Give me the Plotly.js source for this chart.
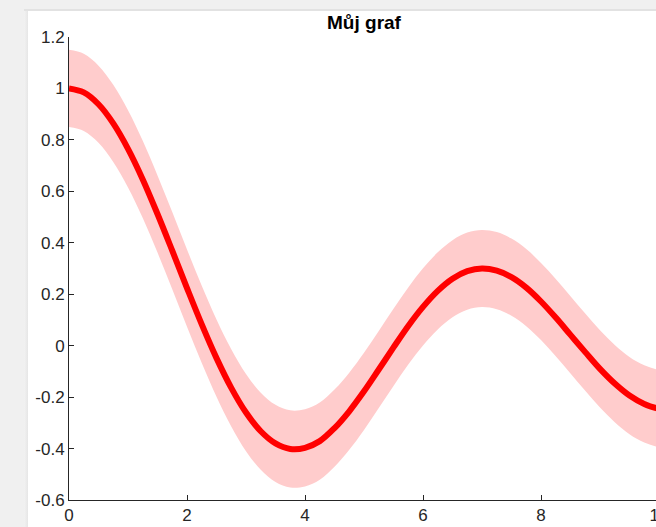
<!DOCTYPE html>
<html>
<head>
<meta charset="utf-8">
<script src="https://cdn.plot.ly/plotly-3.0.1.min.js"></script>
<style>
html,body{margin:0;padding:0;width:656px;height:527px;overflow:hidden;background:#f0f0f0;}
#edge{position:absolute;left:24px;top:10px;width:4px;height:520px;background:linear-gradient(to right,#f2f2f2,#e6e6e6);}
#topline{position:absolute;left:24px;top:9px;width:640px;height:2px;background:#e2e2e2;}
#plot{position:absolute;left:28px;top:11px;width:640px;height:540px;background:#fff;}
</style>
</head>
<body>
<div id="edge"></div>
<div id="topline"></div>
<div id="plot"></div>
<script>
const xVals = [0,0.25,0.5,0.75,1,1.25,1.5,1.75,2,2.25,2.5,2.75,3,3.25,3.5,3.75,4,4.25,4.5,4.75,5,5.25,5.5,5.75,6,6.25,6.5,6.75,7,7.25,7.5,7.75,8,8.25,8.5,8.75,9,9.25,9.5,9.75,10];
const yVals = [1,0.9845,0.9385,0.8642,0.7652,0.6463,0.5118,0.3693,0.2239,0.0827,-0.0484,-0.1641,-0.2601,-0.3328,-0.3801,-0.4014,-0.3971,-0.3711,-0.3205,-0.2550,-0.1776,-0.0928,-0.0068,0.0765,0.1506,0.2129,0.2601,0.2896,0.3001,0.2915,0.2663,0.2256,0.1717,0.1092,0.0419,-0.0251,-0.0903,-0.1473,-0.1939,-0.2266,-0.2459];
const upperVals = [1.15,1.1345,1.0885,1.0142,0.9152,0.7963,0.6618,0.5193,0.3739,0.2327,0.1016,-0.0141,-0.1101,-0.1828,-0.2301,-0.2514,-0.2471,-0.2211,-0.1705,-0.1050,-0.0276,0.0572,0.1432,0.2265,0.3006,0.3629,0.4101,0.4396,0.4501,0.4415,0.4163,0.3756,0.3217,0.2592,0.1919,0.1249,0.0597,0.0027,-0.0439,-0.0766,-0.0959];
const lowerVals = [0.85,0.8345,0.7885,0.7142,0.6152,0.4963,0.3618,0.2193,0.0739,-0.0673,-0.1984,-0.3141,-0.4101,-0.4828,-0.5301,-0.5514,-0.5471,-0.5211,-0.4705,-0.4050,-0.3276,-0.2428,-0.1568,-0.0735,0.0006,0.0629,0.1101,0.1396,0.1501,0.1415,0.1163,0.0756,0.0217,-0.0408,-0.1081,-0.1751,-0.2403,-0.2973,-0.3439,-0.3766,-0.3959];
const xTicks = [0,2,4,6,8,10];
const xTickText = ['0','2','4','6','8','10'];
const yTicks = [-0.6,-0.4,-0.2,0,0.2,0.4,0.6,0.8,1,1.2];
const yTickText = ['-0.6','-0.4','-0.2','0','0.2','0.4','0.6','0.8','1','1.2'];
const titleText = 'Můj graf';

const traces = [
  {x:xVals,y:upperVals,mode:'lines',line:{width:0,shape:'spline',color:'rgba(0,0,0,0)'},hoverinfo:'skip',showlegend:false},
  {x:xVals,y:lowerVals,mode:'lines',line:{width:0,shape:'spline',color:'rgba(0,0,0,0)'},fill:'tonexty',fillcolor:'rgb(255,204,204)',hoverinfo:'skip',showlegend:false},
  {x:xVals,y:yVals,mode:'lines',line:{width:6,shape:'spline',color:'rgb(255,0,0)'},showlegend:false,cliponaxis:false}
];
const axisCommon = {
  showgrid:false, zeroline:false, showline:true, linecolor:'#262626', linewidth:1,
  ticks:'inside', ticklen:5, tickcolor:'#262626', tickwidth:1,
  tickfont:{family:'Liberation Sans, Arial, sans-serif', size:17, color:'#262626'},
  mirror:false, fixedrange:true, layer:'below traces', ticklabeloverflow:'allow'
};
const layout = {
  width:640, height:540,
  margin:{l:41,r:9,t:26,b:51},
  paper_bgcolor:'#ffffff', plot_bgcolor:'#ffffff',
  showlegend:false,
  title:{text:titleText, font:{family:'Liberation Sans, Arial, sans-serif', size:19, color:'#000', weight:'bold'}, xref:'paper', x:0.5, xanchor:'center', yref:'container', y:0.979, yanchor:'middle'},
  xaxis:Object.assign({}, axisCommon, {range:[0,10], tickvals:xTicks, ticktext:xTickText}),
  yaxis:Object.assign({}, axisCommon, {range:[-0.6,1.2], tickvals:yTicks, ticktext:yTickText})
};
Plotly.newPlot('plot', traces, layout, {displayModeBar:false, staticPlot:true});
</script>
</body>
</html>
